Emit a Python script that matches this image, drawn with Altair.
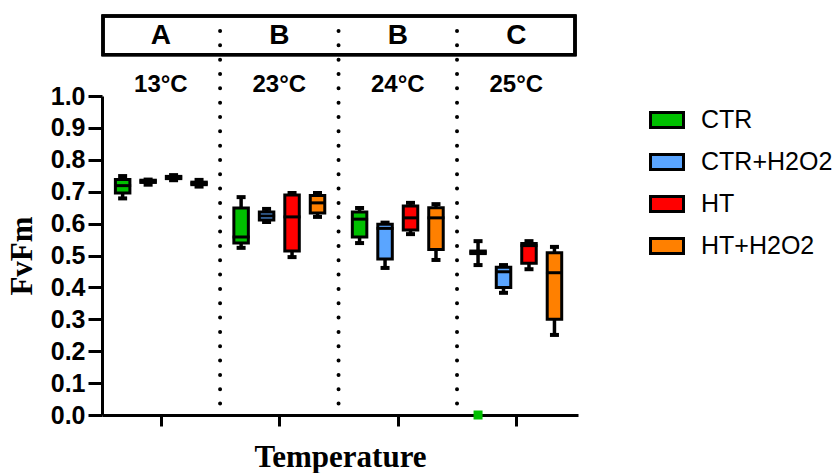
import altair as alt
import pandas as pd

temps = ["13°C", "23°C", "24°C", "25°C"]
letters = ["A", "B", "B", "C"]
groups = ["CTR", "CTR+H2O2", "HT", "HT+H2O2"]
colors = ["#00C000", "#5AA5FF", "#FF0000", "#FF8000"]

# values listed temperature by temperature, groups in the order of `groups`
mins = [0.679, 0.722, 0.736, 0.716,
        0.524, 0.605, 0.495, 0.621,
        0.539, 0.461, 0.567, 0.486,
        0.470, 0.383, 0.457, 0.251]
q1s = [0.696, 0.729, 0.741, 0.722,
       0.539, 0.611, 0.514, 0.633,
       0.558, 0.489, 0.580, 0.519,
       0.506, 0.400, 0.476, 0.300]
medians = [0.719, 0.733, 0.745, 0.726,
           0.558, 0.624, 0.621, 0.665,
           0.614, 0.585, 0.618, 0.618,
           0.510, 0.449, 0.531, 0.446]
q3s = [0.738, 0.736, 0.748, 0.730,
       0.649, 0.636, 0.690, 0.688,
       0.636, 0.598, 0.655, 0.650,
       0.514, 0.463, 0.538, 0.509]
maxs = [0.749, 0.738, 0.752, 0.737,
        0.683, 0.646, 0.696, 0.696,
        0.649, 0.603, 0.665, 0.661,
        0.545, 0.470, 0.545, 0.527]

outlier_temp = ["25°C"]
outlier_group = ["CTR"]
outlier_value = [0.0]

y_ticks = [round(v * 0.1, 1) for v in range(11)]

GROUP_STEP = 0.215  # spacing of the four boxes within a temperature, in category units

def pos(t, g):
    return temps.index(t) + (groups.index(g) - 1.5) * GROUP_STEP

rows = []
for i, t in enumerate(temps):
    for j, g in enumerate(groups):
        k = i * 4 + j
        rows.append({"temp": t, "group": g, "pos": pos(t, g), "min": mins[k], "q1": q1s[k],
                     "median": medians[k], "q3": q3s[k], "max": maxs[k]})
df = pd.DataFrame(rows)
out_df = pd.DataFrame({"temp": outlier_temp, "group": outlier_group, "v": outlier_value,
                       "pos": [pos(t, g) for t, g in zip(outlier_temp, outlier_group)]})
sep_df = pd.DataFrame({"pos": [i + 0.5 for i in range(len(temps) - 1)]})
lab_df = pd.DataFrame({"temp": temps, "letter": letters, "pos": list(range(len(temps)))})

xscale = alt.Scale(domain=[-0.4545, 3.479], nice=False, zero=False)
yscale = alt.Scale(domain=[0, 1], nice=False, zero=False)

Xaxis = alt.Axis(title="Temperature", values=list(range(len(temps))), labels=False,
                 ticks=True, tickSize=11, tickWidth=3, tickColor="black",
                 domainColor="black", domainWidth=3,
                 titleFont="Liberation Serif", titleFontWeight="bold",
                 titleFontSize=31, titleColor="black", titlePadding=15, grid=False)
Yaxis = alt.Axis(title="FvFm", values=y_ticks, format=".1f", tickCount=11,
                 labelOverlap=False, labelFont="Liberation Sans", labelFontWeight="bold",
                 labelFontSize=25, labelColor="black", labelPadding=3, tickSize=14, tickWidth=3,
                 tickColor="black", domainColor="black", domainWidth=3, grid=False,
                 titleFont="Liberation Serif", titleFontWeight="bold", titleFontSize=31,
                 titleColor="black", titlePadding=12)


def XE(field="pos:Q"):
    return alt.X(field, scale=xscale, axis=Xaxis, title="Temperature")


def YE(field):
    return alt.Y(field, scale=yscale, axis=Yaxis, title="FvFm")


def YD(value):
    return alt.YDatum(value, scale=yscale, axis=Yaxis, title="FvFm")


base = alt.Chart(df)

whisk = base.mark_rule(color="black", strokeWidth=3.5).encode(
    x=XE(), y=YE("min:Q"), y2="max:Q")
cap_lo = base.mark_tick(color="black", thickness=4, size=9, opacity=1, orient="horizontal").encode(
    x=XE(), y=YE("min:Q"))
cap_hi = base.mark_tick(color="black", thickness=4, size=9, opacity=1, orient="horizontal").encode(
    x=XE(), y=YE("max:Q"))
boxes = base.mark_bar(stroke="black", strokeWidth=3, width=14.5).encode(
    x=XE(), y=YE("q1:Q"), y2="q3:Q",
    color=alt.Color("group:N", scale=alt.Scale(domain=groups, range=colors),
                    legend=alt.Legend(title=None, orient="none", legendX=547, legendY=6,
                                      symbolType="M-1,-0.45H1V0.45H-1Z", symbolSize=1089,
                                      symbolStrokeColor="black", symbolStrokeWidth=3,
                                      symbolOpacity=1,
                                      labelFont="Liberation Sans", labelFontSize=25,
                                      labelColor="black", labelOffset=16, rowPadding=10)))
meds = base.mark_tick(color="black", thickness=3, size=17, opacity=1, orient="horizontal").encode(
    x=XE(), y=YE("median:Q"))
outl = alt.Chart(out_df).mark_square(size=81, opacity=1, color=colors[0]).encode(
    x=XE(), y=YE("v:Q"))

seps = alt.Chart(sep_df).mark_rule(color="black", strokeWidth=4, strokeCap="round",
                                   strokeDash=[0, 14.33]).encode(
    x=XE(), y=YD(1.2038), y2=alt.datum(0.0313))

header = alt.Chart(lab_df).mark_rect(fillOpacity=0, stroke="black", strokeWidth=3).encode(
    x=alt.value(1), x2=alt.value(473), y=YD(1.251), y2=alt.datum(1.129))

let_txt = alt.Chart(lab_df).mark_text(font="Liberation Sans", fontWeight="bold", fontSize=28,
                                      color="black", baseline="middle").encode(
    x=XE(), y=YD(1.187), text="letter:N")
temp_txt = alt.Chart(lab_df).mark_text(font="Liberation Sans", fontWeight="bold", fontSize=24,
                                       color="black", baseline="middle").encode(
    x=XE(), y=YD(1.033), text="temp:N")

chart = alt.layer(whisk, cap_lo, cap_hi, boxes, meds, outl, seps, header, let_txt, temp_txt).properties(
    width=476, height=319,
    padding={"left": 102, "top": 96, "right": 262, "bottom": 58},
    autosize=alt.AutoSizeParams(type="none"),
    background="white",
).configure_view(stroke=None)

chart.save("out.html", embed_options={"renderer": "svg", "actions": False})
